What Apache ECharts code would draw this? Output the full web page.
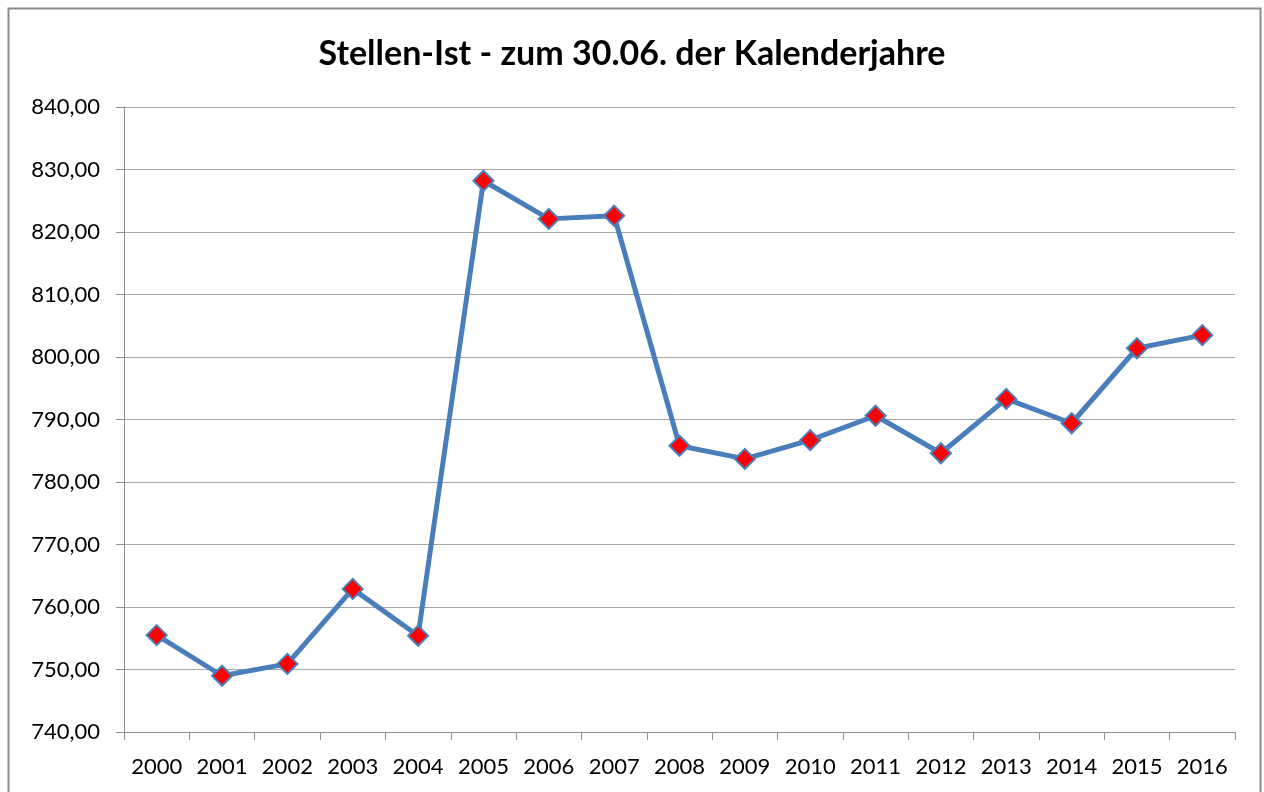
<!DOCTYPE html>
<html>
<head>
<meta charset="utf-8">
<script src="https://cdn.jsdelivr.net/npm/echarts@6/dist/echarts.min.js"></script>
<style>
  html, body { margin: 0; padding: 0; background: #fff; }
  #chart { width: 1264px; height: 792px; }
</style>
</head>
<body>
<div id="chart"></div>
<script>
  var years = ['2000', '2001', '2002', '2003', '2004', '2005', '2006', '2007', '2008',
               '2009', '2010', '2011', '2012', '2013', '2014', '2015', '2016']
  var stellen = [755.5, 749.0, 750.9, 762.9, 755.4, 828.2, 822.1, 822.6, 785.8,
                 783.7, 786.7, 790.6, 784.6, 793.3, 789.4, 801.4, 803.5]
  var yMin = 740
  var yMax = 840
  var yStep = 10

  var fontFam = 'Lato, "Open Sans", sans-serif'

  var chart = echarts.init(document.getElementById('chart'))
  var option = {
    animation: false,
    backgroundColor: '#fff',
    graphic: [{
      type: 'rect',
      shape: { x: 8.5, y: 8.5, width: 1252, height: 800 },
      style: { fill: 'none', stroke: '#8c8c8c', lineWidth: 2 }
    }],
    title: {
      text: 'Stellen-Ist - zum 30.06. der Kalenderjahre',
      left: 'center',
      top: 32,
      textStyle: { fontFamily: fontFam, fontSize: 34, fontWeight: 'bold', color: '#000' }
    },
    grid: { left: 124, right: 29, top: 107, bottom: 60 },
    xAxis: {
      type: 'category',
      data: years,
      boundaryGap: true,
      axisLine: { lineStyle: { color: '#8c8c8c', width: 1 } },
      axisTick: { show: true, interval: 0, length: 8, inside: false, lineStyle: { color: '#8c8c8c' } },
      axisLabel: { interval: 0, hideOverlap: false, color: '#000', fontFamily: fontFam, fontSize: 22, margin: 24 },
      splitLine: { show: false }
    },
    yAxis: {
      type: 'value',
      min: yMin,
      max: yMax,
      interval: yStep,
      axisLine: { show: true, lineStyle: { color: '#8c8c8c', width: 1 } },
      axisTick: { show: true, length: 8, lineStyle: { color: '#8c8c8c' } },
      axisLabel: {
        color: '#000', fontFamily: fontFam, fontSize: 22, margin: 24,
        formatter: function (v) { return v.toFixed(2).replace('.', ',') }
      },
      splitLine: { show: true, lineStyle: { color: '#a6a6a6', width: 1 } }
    },
    series: [{
      type: 'line',
      data: stellen,
      symbol: 'diamond',
      symbolSize: 20,
      lineStyle: { color: '#4a7ebb', width: 5 },
      itemStyle: { color: '#ff0000', borderColor: '#4a7ebb', borderWidth: 2 }
    }]
  }
  chart.setOption(option)
</script>
</body>
</html>
